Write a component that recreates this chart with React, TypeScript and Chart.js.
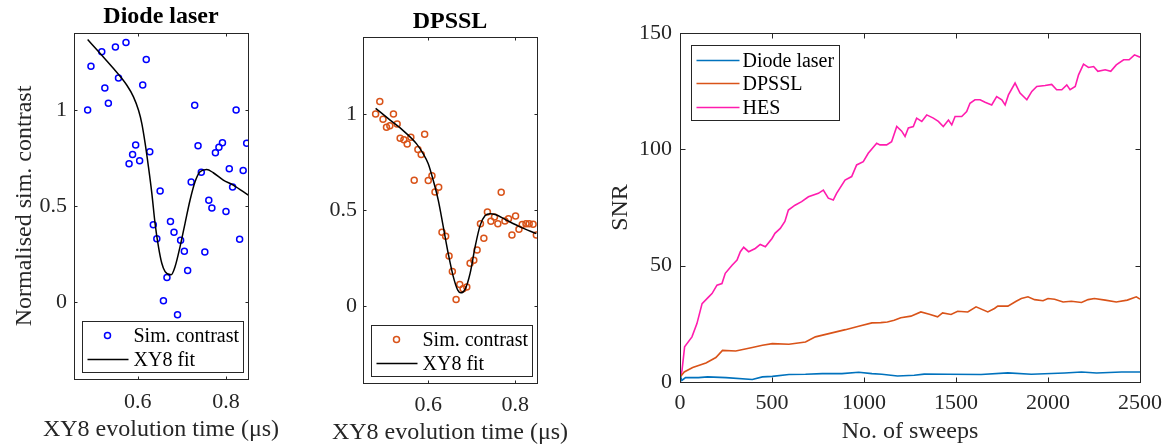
import React, { useEffect, useRef } from 'react';
import { Chart, registerables } from 'chart.js';

Chart.register(...registerables);

const FONT = "'Liberation Serif', 'Times New Roman', serif";
const AXIS_COLOR = '#262626';

// ---- Panel 1: Diode laser ----
const DIODE_X = [0.486, 0.4935, 0.518, 0.525, 0.533, 0.549, 0.556, 0.573, 0.58, 0.588, 0.595, 0.604, 0.611, 0.619, 0.627, 0.635, 0.643, 0.6505, 0.658, 0.666, 0.674, 0.682, 0.69, 0.697, 0.7055, 0.713, 0.721, 0.729, 0.7366, 0.744, 0.752, 0.761, 0.768, 0.776, 0.784, 0.792, 0.8, 0.8075, 0.815, 0.823, 0.831, 0.839, 0.847];
const DIODE_Y = [1.0, 1.227, 1.303, 1.114, 1.035, 1.327, 1.166, 1.35, 0.72, 0.768, 0.817, 0.735, 1.13, 1.262, 0.782, 0.403, 0.33, 0.578, 0.007, 0.128, 0.42, 0.363, -0.066, 0.322, 0.265, 0.164, 0.625, 1.024, 0.813, 0.675, 0.261, 0.53, 0.49, 0.777, 0.806, 0.829, 0.472, 0.694, 0.599, 1.0, 0.327, 0.685, 0.827];
const DIODE_FIT_X = [0.486, 0.5146, 0.5447, 0.575, 0.59, 0.6015, 0.609, 0.6165, 0.624, 0.6317, 0.639, 0.6467, 0.6543, 0.6618, 0.6754, 0.6845, 0.6958, 0.7071, 0.7185, 0.7298, 0.7411, 0.7563, 0.7712, 0.7939, 0.8165, 0.8505];
const DIODE_FIT_Y = [1.366, 1.293, 1.215, 1.128, 1.068, 0.998, 0.929, 0.826, 0.704, 0.566, 0.41, 0.289, 0.202, 0.159, 0.142, 0.185, 0.289, 0.41, 0.531, 0.626, 0.678, 0.69, 0.673, 0.635, 0.609, 0.557];

// ---- Panel 2: DPSSL ----
const DPSSL_X = [0.479, 0.4886, 0.496, 0.504, 0.5117, 0.52, 0.5285, 0.5354, 0.544, 0.5516, 0.56, 0.5677, 0.5762, 0.5838, 0.5917, 0.6, 0.6085, 0.6155, 0.624, 0.6316, 0.64, 0.6478, 0.6554, 0.664, 0.6724, 0.68, 0.6886, 0.6962, 0.7047, 0.7123, 0.72, 0.7278, 0.736, 0.744, 0.7522, 0.76, 0.7677, 0.7762, 0.7845, 0.7924, 0.8007, 0.8085, 0.816, 0.8247, 0.832, 0.841, 0.8485];
const DPSSL_Y = [1.0, 1.065, 0.972, 0.93, 0.938, 1.0, 0.948, 0.873, 0.865, 0.844, 0.879, 0.655, 0.815, 0.789, 0.894, 0.654, 0.678, 0.593, 0.619, 0.384, 0.363, 0.261, 0.18, 0.035, 0.113, 0.09, 0.099, 0.223, 0.239, 0.292, 0.429, 0.353, 0.489, 0.441, 0.463, 0.429, 0.592, 0.443, 0.455, 0.37, 0.469, 0.4, 0.424, 0.429, 0.429, 0.426, 0.37];
const DPSSL_FIT_X = [0.479, 0.5117, 0.5424, 0.5732, 0.5885, 0.6, 0.6115, 0.6231, 0.6346, 0.646, 0.6577, 0.6678, 0.6747, 0.6847, 0.6962, 0.7077, 0.7193, 0.7308, 0.7423, 0.7539, 0.7808, 0.8115, 0.8485];
const DPSSL_FIT_Y = [1.029, 0.969, 0.913, 0.844, 0.792, 0.741, 0.654, 0.55, 0.412, 0.273, 0.152, 0.083, 0.069, 0.087, 0.17, 0.308, 0.42, 0.471, 0.481, 0.477, 0.446, 0.412, 0.377];

const SMALL_X_TICKS = [0.6, 0.8];
const SMALL_X_LABELS = ['0.6', '0.8'];
const SMALL_Y_TICKS = [0, 0.5, 1];
const SMALL_Y_LABELS = ['0', '0.5', '1'];

// ---- Panel 3: SNR vs sweeps ----
const HES_SWEEPS = [0, 11, 25, 65, 92, 120, 156, 174, 201, 228, 246, 283, 310, 328, 346, 373, 409, 436, 464, 500, 516, 545, 570, 589, 625, 661, 698, 752, 779, 806, 833, 851, 897, 933, 960, 996, 1023, 1069, 1087, 1123, 1150, 1178, 1205, 1223, 1241, 1268, 1286, 1314, 1341, 1377, 1404, 1431, 1459, 1477, 1495, 1531, 1558, 1576, 1603, 1631, 1658, 1694, 1721, 1749, 1767, 1785, 1821, 1848, 1885, 1912, 1939, 1984, 2020, 2047, 2075, 2102, 2120, 2148, 2166, 2193, 2220, 2248, 2271, 2311, 2341, 2371, 2411, 2441, 2470, 2500];
const HES_SNR = [1.5, 5, 15.1, 19.4, 25.1, 33.7, 36.6, 38, 41.6, 42.3, 46.7, 50.2, 52.4, 56, 57.9, 56, 57.4, 59.1, 58.1, 61.7, 63.9, 66, 69, 73.9, 76, 77.5, 79.6, 81.1, 82.5, 79, 78.2, 81.1, 86.8, 88.3, 93.3, 94.7, 98.3, 102.6, 101.9, 101.9, 103.3, 109.8, 107.8, 105.5, 109.2, 109.8, 113.4, 112, 114.8, 113.4, 112, 109.8, 112.6, 110.5, 114.1, 114.1, 116.2, 119.8, 121.3, 121.3, 120.2, 119.1, 122.7, 121.3, 119.1, 123.4, 128.5, 124.2, 121.3, 124.9, 127, 127.4, 127.9, 125.6, 125.6, 127.7, 125.6, 127, 132, 136.6, 135.2, 135.6, 133.5, 134.2, 133.5, 136.3, 138.5, 138.5, 140.6, 139.6];
const DPSSL_SWEEPS = [0, 23, 69, 141, 195, 231, 303, 393, 448, 502, 592, 682, 736, 809, 899, 971, 1043, 1091, 1127, 1164, 1200, 1255, 1309, 1355, 1400, 1427, 1473, 1509, 1564, 1609, 1673, 1709, 1727, 1782, 1827, 1855, 1891, 1927, 1973, 2000, 2036, 2082, 2127, 2182, 2218, 2252, 2311, 2371, 2431, 2480, 2500];
const DPSSL_SNR = [2.0, 4.3, 6.2, 8.2, 10.5, 13.6, 13.3, 14.8, 15.8, 16.5, 16.2, 17.2, 19.4, 20.8, 22.5, 24, 25.4, 25.5, 25.8, 26.5, 27.6, 28.3, 30.1, 29.1, 28.0, 29.7, 29.0, 30.4, 30.1, 32.3, 30.1, 31.6, 32.6, 32.6, 34.7, 35.9, 36.6, 35.4, 34.9, 35.9, 35.6, 34.4, 34.7, 34.2, 35.4, 35.9, 35.2, 34.4, 35.2, 36.6, 35.6];
const DIODE_SWEEPS = [0, 10, 30, 100, 150, 250, 393, 448, 502, 592, 682, 773, 880, 971, 1043, 1097, 1182, 1273, 1327, 1455, 1636, 1782, 1909, 2091, 2182, 2264, 2400, 2500];
const DIODE_SNR = [2.9, 0.7, 1.9, 1.9, 2.2, 1.9, 1.1, 2.2, 2.4, 3.2, 3.3, 3.6, 3.6, 4.2, 3.6, 3.3, 2.6, 2.9, 3.4, 3.3, 3.2, 3.9, 3.3, 3.9, 4.3, 3.9, 4.3, 4.3];

const SNR_X_TICKS = [0, 500, 1000, 1500, 2000, 2500];
const SNR_X_LABELS = ['0', '500', '1000', '1500', '2000', '2500'];
const SNR_Y_TICKS = [0, 50, 100, 150];
const SNR_Y_LABELS = ['0', '50', '100', '150'];

const COLOR_DIODE_PTS = '#0000ff';
const COLOR_DIODE = '#0072bd';
const COLOR_DPSSL = '#d95319';
const COLOR_HES = '#ff1cae';

function zip(xs: number[], ys: number[]) {
  return xs.map((x, i) => ({ x, y: ys[i] }));
}

function labelFor(ticks: number[], labels: string[]) {
  return (v: any) => {
    const i = ticks.findIndex((t) => Math.abs(t - Number(v)) < 1e-9);
    return i >= 0 ? labels[i] : '';
  };
}

function framePlugin(tickLen: number) {
  return {
    id: 'frame',
    afterDatasetsDraw(chart: any) {
      const { ctx, chartArea: a, scales } = chart;
      ctx.save();
      ctx.strokeStyle = AXIS_COLOR;
      ctx.lineWidth = 1;
      const l = Math.round(a.left) + 0.5;
      const t = Math.round(a.top) + 0.5;
      const r = Math.round(a.right) + 0.5;
      const b = Math.round(a.bottom) + 0.5;
      ctx.strokeRect(l, t, r - l, b - t);
      ctx.beginPath();
      scales.x.ticks.forEach((tk: any) => {
        const px = Math.round(scales.x.getPixelForValue(tk.value)) + 0.5;
        ctx.moveTo(px, b);
        ctx.lineTo(px, b - tickLen);
        ctx.moveTo(px, t);
        ctx.lineTo(px, t + tickLen);
      });
      scales.y.ticks.forEach((tk: any) => {
        const py = Math.round(scales.y.getPixelForValue(tk.value)) + 0.5;
        ctx.moveTo(l, py);
        ctx.lineTo(l + tickLen, py);
        ctx.moveTo(r, py);
        ctx.lineTo(r - tickLen, py);
      });
      ctx.stroke();
      ctx.restore();
    },
  };
}

function textPlugin(id: string, text: string, y: number, bold: boolean, color: string) {
  return {
    id,
    afterDraw(chart: any) {
      const { ctx, chartArea: a } = chart;
      ctx.save();
      ctx.fillStyle = color;
      ctx.font = `${bold ? 'bold ' : ''}24px ${FONT}`;
      ctx.textAlign = 'center';
      ctx.textBaseline = 'middle';
      ctx.fillText(text, (a.left + a.right) / 2, y);
      ctx.restore();
    },
  };
}

type LegendEntry = { label: string; kind: 'marker' | 'line'; color: string };
type LegendLayout = {
  anchor: 'top' | 'bottom';
  dx: number;
  dy: number;
  w: number;
  h: number;
  rows: number[];
  sym0: number;
  sym1: number;
  markerX: number;
  textX: number;
};

function legendPlugin(entries: LegendEntry[], lay: LegendLayout) {
  return {
    id: 'boxlegend',
    afterDraw(chart: any) {
      const { ctx, chartArea: a } = chart;
      const x = Math.round(a.left + lay.dx) + 0.5;
      const y =
        lay.anchor === 'top'
          ? Math.round(a.top + lay.dy) + 0.5
          : Math.round(a.bottom - lay.dy - lay.h) + 0.5;
      ctx.save();
      ctx.fillStyle = '#fff';
      ctx.fillRect(x, y, lay.w, lay.h);
      ctx.strokeStyle = AXIS_COLOR;
      ctx.lineWidth = 1;
      ctx.strokeRect(x, y, lay.w, lay.h);
      entries.forEach((e, i) => {
        const ry = y + lay.rows[i];
        if (e.kind === 'line') {
          ctx.strokeStyle = e.color;
          ctx.lineWidth = 1.5;
          ctx.beginPath();
          ctx.moveTo(x + lay.sym0, ry);
          ctx.lineTo(x + lay.sym1, ry);
          ctx.stroke();
        } else {
          ctx.strokeStyle = e.color;
          ctx.lineWidth = 1.5;
          ctx.beginPath();
          ctx.arc(x + lay.markerX, ry, 3, 0, Math.PI * 2);
          ctx.stroke();
        }
        ctx.fillStyle = '#000';
        ctx.font = `20px ${FONT}`;
        ctx.textAlign = 'left';
        ctx.textBaseline = 'middle';
        ctx.fillText(e.label, x + lay.textX, ry + 1);
      });
      ctx.restore();
    },
  };
}

type AxisCfg = {
  min: number;
  max: number;
  ticks: number[];
  labels: string[];
  size: number;
  tickPad: number;
  title?: string;
  titlePad?: number;
};

function makeScales(xc: AxisCfg, yc: AxisCfg) {
  const tickFont = { family: FONT, size: 22 };
  const titleFont = { family: FONT, size: 24 };
  const grid = { display: false, drawTicks: false, tickLength: 0 };
  return {
    x: {
      type: 'linear',
      min: xc.min,
      max: xc.max,
      afterFit: (s: any) => {
        s.height = xc.size;
      },
      afterBuildTicks: (s: any) => {
        s.ticks = xc.ticks.map((v) => ({ value: v }));
      },
      grid,
      border: { display: false },
      ticks: {
        autoSkip: false,
        maxRotation: 0,
        padding: xc.tickPad,
        font: tickFont,
        color: AXIS_COLOR,
        callback: labelFor(xc.ticks, xc.labels),
      },
      title: { display: false },
    },
    y: {
      type: 'linear',
      min: yc.min,
      max: yc.max,
      afterFit: (s: any) => {
        s.width = yc.size;
      },
      afterBuildTicks: (s: any) => {
        s.ticks = yc.ticks.map((v) => ({ value: v }));
      },
      grid,
      border: { display: false },
      ticks: {
        autoSkip: false,
        padding: yc.tickPad,
        font: tickFont,
        color: AXIS_COLOR,
        callback: labelFor(yc.ticks, yc.labels),
      },
      title: {
        display: !!yc.title,
        text: yc.title || '',
        font: titleFont,
        color: AXIS_COLOR,
        padding: { top: yc.titlePad || 0, bottom: 0 },
      },
    },
  };
}

function useChart(ref: React.RefObject<HTMLCanvasElement>, build: () => any) {
  useEffect(() => {
    if (!ref.current) return;
    const chart = new Chart(ref.current, build());
    return () => chart.destroy();
  }, []);
}

const SMALL_LEGEND = (markerColor: string): [LegendEntry[], LegendLayout] => [
  [
    { label: 'Sim. contrast', kind: 'marker', color: markerColor },
    { label: 'XY8 fit', kind: 'line', color: '#000' },
  ],
  { anchor: 'bottom', dx: 8, dy: 7, w: 161, h: 51, rows: [14, 38], sym0: 5, sym1: 46, markerX: 25, textX: 51 },
];

function fitPanelConfig(
  ptsX: number[],
  ptsY: number[],
  fitX: number[],
  fitY: number[],
  color: string,
  title: string,
  titleY: number,
  opts: { xMin: number; padTop: number; padRight: number; yWidth: number; xHeight: number; yTickPad: number; xTickPad: number; xTitleY: number; yTitle?: string; yTitlePad?: number }
) {
  const [entries, lay] = SMALL_LEGEND(color);
  return {
    type: 'scatter',
    data: {
      datasets: [
        {
          label: 'Sim. contrast',
          data: zip(ptsX, ptsY),
          showLine: false,
          pointStyle: 'circle',
          pointRadius: 3,
          pointBorderWidth: 1.5,
          pointBackgroundColor: 'rgba(0,0,0,0)',
          pointBorderColor: color,
          borderColor: color,
          order: 2,
        },
        {
          label: 'XY8 fit',
          data: zip(fitX, fitY),
          showLine: true,
          pointRadius: 0,
          borderColor: '#000',
          borderWidth: 1.5,
          cubicInterpolationMode: 'monotone',
          order: 1,
        },
      ],
    },
    options: {
      responsive: false,
      maintainAspectRatio: false,
      animation: false,
      layout: { padding: { left: 0, right: opts.padRight, top: opts.padTop, bottom: 0 } },
      plugins: { legend: { display: false }, title: { display: false }, tooltip: { enabled: false } },
      scales: makeScales(
        {
          min: opts.xMin,
          max: 0.85,
          ticks: SMALL_X_TICKS,
          labels: SMALL_X_LABELS,
          size: opts.xHeight,
          tickPad: opts.xTickPad,
        },
        {
          min: -0.4,
          max: 1.4,
          ticks: SMALL_Y_TICKS,
          labels: SMALL_Y_LABELS,
          size: opts.yWidth,
          tickPad: opts.yTickPad,
          title: opts.yTitle,
          titlePad: opts.yTitlePad,
        }
      ),
    },
    plugins: [
      framePlugin(3),
      legendPlugin(entries, lay),
      textPlugin('paneltitle', title, titleY, true, '#000'),
      textPlugin('xtitle', 'XY8 evolution time (μs)', opts.xTitleY, false, AXIS_COLOR),
    ],
  };
}

// Canvas placement on the page (canvases are transparent and may overlap)
const C1 = { left: 0, width: 300 };
const C2 = { left: 270, width: 330 };
const C3 = { left: 560, width: 613 };

export default function App() {
  const r1 = useRef<HTMLCanvasElement>(null);
  const r2 = useRef<HTMLCanvasElement>(null);
  const r3 = useRef<HTMLCanvasElement>(null);

  useChart(r1, () =>
    fitPanelConfig(DIODE_X, DIODE_Y, DIODE_FIT_X, DIODE_FIT_Y, COLOR_DIODE_PTS, 'Diode laser', 17, {
      xMin: 0.455,
      padTop: 33,
      padRight: C1.left + C1.width - 248,
      yWidth: 74 - C1.left,
      xHeight: 69,
      yTickPad: 7,
      xTickPad: 10,
      xTitleY: 430,
      yTitle: 'Normalised sim. contrast',
      yTitlePad: 10,
    })
  );

  useChart(r2, () =>
    fitPanelConfig(DPSSL_X, DPSSL_Y, DPSSL_FIT_X, DPSSL_FIT_Y, COLOR_DPSSL, 'DPSSL', 22, {
      xMin: 0.45,
      padTop: 37,
      padRight: C2.left + C2.width - 537,
      yWidth: 363 - C2.left,
      xHeight: 65,
      yTickPad: 6,
      xTickPad: 9,
      xTitleY: 433,
    })
  );

  useChart(r3, () => {
    const entries: LegendEntry[] = [
      { label: 'Diode laser', kind: 'line', color: COLOR_DIODE },
      { label: 'DPSSL', kind: 'line', color: COLOR_DPSSL },
      { label: 'HES', kind: 'line', color: COLOR_HES },
    ];
    const lay: LegendLayout = { anchor: 'top', dx: 11, dy: 12, w: 148, h: 75, rows: [15, 38, 62], sym0: 5, sym1: 48, markerX: 25, textX: 51 };
    const line = (label: string, xs: number[], ys: number[], color: string) => ({
      label,
      data: zip(xs, ys),
      borderColor: color,
      backgroundColor: color,
      borderWidth: 1.6,
      pointRadius: 0,
      tension: 0,
      fill: false,
    });
    return {
      type: 'line',
      data: {
        datasets: [
          line('Diode laser', DIODE_SWEEPS, DIODE_SNR, COLOR_DIODE),
          line('DPSSL', DPSSL_SWEEPS, DPSSL_SNR, COLOR_DPSSL),
          line('HES', HES_SWEEPS, HES_SNR, COLOR_HES),
        ],
      },
      options: {
        responsive: false,
        maintainAspectRatio: false,
        animation: false,
        layout: { padding: { left: 0, right: C3.left + C3.width - 1140, top: 33, bottom: 0 } },
        plugins: { legend: { display: false }, title: { display: false }, tooltip: { enabled: false } },
        scales: makeScales(
          { min: 0, max: 2500, ticks: SNR_X_TICKS, labels: SNR_X_LABELS, size: 66, tickPad: 8 },
          { min: 0, max: 150, ticks: SNR_Y_TICKS, labels: SNR_Y_LABELS, size: 680 - C3.left, tickPad: 8, title: 'SNR', titlePad: 46 }
        ),
      },
      plugins: [framePlugin(5), legendPlugin(entries, lay), textPlugin('xtitle', 'No. of sweeps', 432, false, AXIS_COLOR)],
    };
  });

  const canvasStyle = (c: { left: number; width: number }): React.CSSProperties => ({
    position: 'absolute',
    left: c.left,
    top: 0,
    width: c.width,
    height: 448,
  });

  return (
    <div style={{ position: 'fixed', left: 0, top: 0, width: 1173, height: 448, background: '#fff', overflow: 'hidden' }}>
      <canvas ref={r1} width={C1.width} height={448} style={canvasStyle(C1)} />
      <canvas ref={r2} width={C2.width} height={448} style={canvasStyle(C2)} />
      <canvas ref={r3} width={C3.width} height={448} style={canvasStyle(C3)} />
    </div>
  );
}
